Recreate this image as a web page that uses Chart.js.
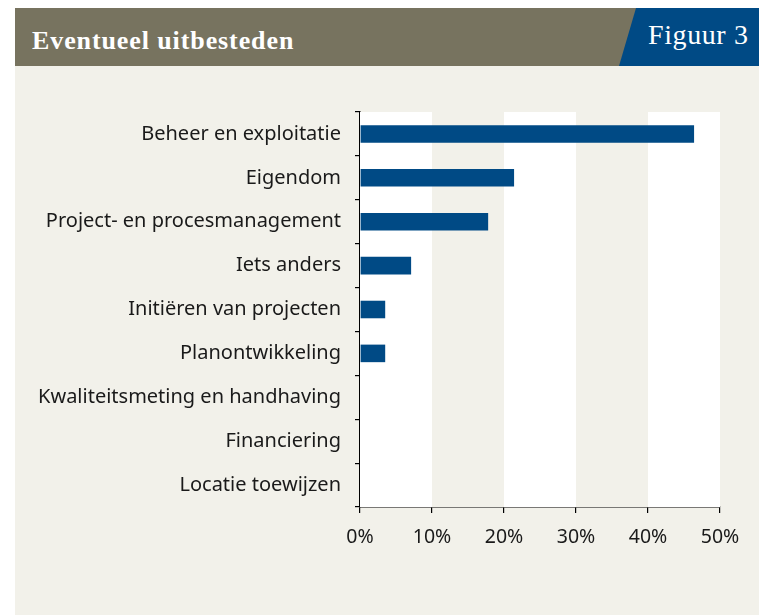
<!DOCTYPE html>
<html><head><meta charset="utf-8">
<script src="https://cdn.jsdelivr.net/npm/chart.js@4/dist/chart.umd.min.js"></script>
<style>
html,body{margin:0;padding:0;background:#fff;}
#card{position:absolute;left:15px;top:8px;width:744px;height:607px;background:#f2f1ea;overflow:hidden;}
#hdr{position:absolute;left:0;top:0;width:744px;height:58px;background:#77735f;}
#title{position:absolute;left:17px;top:20px;line-height:1;color:#fff;font-family:"Liberation Serif","DejaVu Serif",serif;font-weight:bold;font-size:26px;letter-spacing:0.9px;white-space:nowrap;}
#fig{position:absolute;left:604px;top:0;width:160px;height:58px;background:#004a85;clip-path:polygon(17px 0,160px 0,160px 58px,0 58px);}
#figt{position:absolute;left:633px;top:13px;line-height:1;color:#fff;font-family:"Liberation Serif","DejaVu Serif",serif;font-size:28px;letter-spacing:0.6px;white-space:nowrap;}
#wrap{position:absolute;left:0;top:58px;width:744px;height:549px;}
</style></head>
<body>
<div id="card">
  <div id="hdr"></div>
  <div id="fig"></div>
  <div id="title">Eventueel uitbesteden</div>
  <div id="figt">Figuur 3</div>
  <div id="wrap"><canvas id="c"></canvas></div>
</div>
<script>
const categories = ["Beheer en exploitatie","Eigendom","Project- en procesmanagement","Iets anders","Initiëren van projecten","Planontwikkeling","Kwaliteitsmeting en handhaving","Financiering","Locatie toewijzen"];
const values = [46.4, 21.4, 17.8, 7.1, 3.5, 3.5, 0, 0, 0];
const xTicks = [0, 10, 20, 30, 40, 50];

const bands = {
  id: 'bands',
  beforeDatasetsDraw(chart) {
    const {ctx, chartArea, scales:{x}} = chart;
    ctx.save();
    for (let i = 0; i < xTicks.length - 1; i++) {
      const l = x.getPixelForValue(xTicks[i]), r = x.getPixelForValue(xTicks[i+1]);
      ctx.fillStyle = (i % 2 === 0) ? '#ffffff' : '#f2f1ea';
      ctx.fillRect(l, chartArea.top, r - l, chartArea.bottom - chartArea.top);
    }
    ctx.restore();
  }
};

new Chart(document.getElementById('c'), {
  type: 'bar',
  data: { labels: categories, datasets: [{ data: values, backgroundColor: '#004a85', barPercentage: 0.4, categoryPercentage: 1 }] },
  options: {
    indexAxis: 'y',
    responsive: true, maintainAspectRatio: false, animation: false,
    layout: { padding: { top: 46, right: 39, left: 0, bottom: 0 } },
    plugins: { legend: { display: false }, tooltip: { enabled: false } },
    scales: {
      x: {
        min: 0, max: 50,
        afterBuildTicks(s) { s.ticks = xTicks.map(v => ({ value: v })); },
        afterFit(s) { s.height = 108; },
        grid: { drawOnChartArea: false, drawTicks: true, tickLength: 6, color: '#000', lineWidth: 1.2 },
        border: { color: '#000', width: 1.5 },
        ticks: { padding: 13, color: '#1a1a1a', font: { family: 'Noto Sans', size: 19.5 }, callback: v => v + '%' }
      },
      y: {
        afterFit(s) { s.width = 345; },
        grid: { drawOnChartArea: false, drawTicks: true, tickLength: 5, color: '#000', lineWidth: 1.2, offset: true },
        border: { color: '#000', width: 1.5 },
        ticks: { padding: 14, color: '#1a1a1a', font: { family: 'Noto Sans', size: 20 } }
      }
    }
  },
  plugins: [bands]
});
</script>
</body></html>
